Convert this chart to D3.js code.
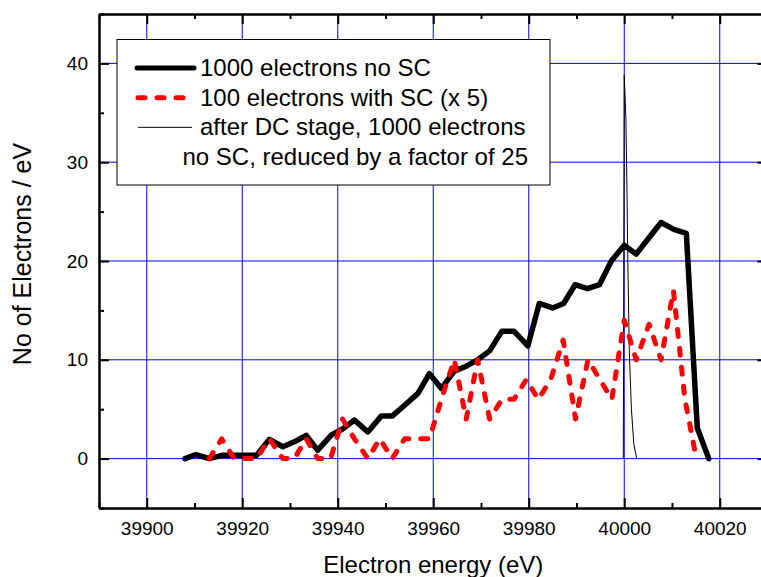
<!DOCTYPE html>
<html>
<head>
<meta charset="utf-8">
<script src="https://cdn.jsdelivr.net/npm/d3@7"></script>
<style>
  html, body { margin: 0; padding: 0; background: #fff; }
  svg { display: block; font-family: "Liberation Sans", Arial, sans-serif; }
</style>
</head>
<body>
<svg id="chart" width="761" height="577"></svg>
<script>
// ---- data ----
const seriesNames = [
  "1000 electrons no SC",
  "100 electrons with SC (x 5)",
  "after DC stage, 1000 electrons",
  "no SC, reduced by a factor of 25"
];

const energyNoSC = [39908, 39910.3, 39913.1, 39915.9, 39918.3, 39920.6, 39923, 39925.7, 39928.5, 39930.9,
  39933.4, 39935.8, 39938.7, 39941, 39943.5, 39946.3, 39949.1, 39951.4, 39954, 39956.8,
  39959.2, 39961.7, 39964.4, 39966.9, 39969.3, 39971.8, 39974.4, 39976.9, 39979.8, 39982.2,
  39985, 39987.3, 39989.7, 39992.3, 39994.8, 39997.3, 40000, 40002.5, 40005.1, 40007.7,
  40010.4, 40013, 40015.3, 40017.7];
const countsNoSC = [0, 0.4, 0, 0.35, 0.35, 0.35, 0.35, 1.95, 1.2, 1.7,
  2.35, 0.85, 2.4, 3.0, 3.9, 2.7, 4.3, 4.3, 5.4, 6.6,
  8.6, 7.1, 8.85, 9.35, 10.0, 10.9, 12.9, 12.9, 11.4, 15.7,
  15.25, 15.7, 17.6, 17.2, 17.6, 20.0, 21.6, 20.7, 22.3, 23.9,
  23.2, 22.8, 3.1, 0];

const energySC = [39913.1, 39915.7, 39918.3, 39920.6, 39923, 39925.7, 39928.5, 39930.9, 39933.4, 39935.8,
  39938.5, 39941, 39943.5, 39946.3, 39948.8, 39951.4, 39954, 39956.8, 39959.2, 39961.7,
  39964.4, 39966.9, 39969.3, 39971.8, 39974.4, 39976.9, 39979.5, 39982, 39984.6, 39987.2,
  39989.8, 39992.4, 39994.9, 39997.4, 40000, 40002.5, 40005.2, 40007.7, 40010.3, 40012.7,
  40015.1];
const countsSC = [0, 2, 0, 0, 0, 2, 0, 0, 2, 0,
  0, 4, 2, 0, 2, 0, 2, 2, 2, 6,
  10, 4, 10, 4, 6, 6, 8, 6, 8, 12,
  4, 10, 8, 6, 14, 10, 13.6, 10, 17, 6,
  0];

const energyDC = [39999.8, 40000, 40000.35, 40000.6, 40000.75, 40001.05, 40001.5, 40002, 40002.6];
const countsDC = [0, 38.8, 34.4, 26, 20, 11, 5, 1.5, 0];

const xMajorTicks = [39900, 39920, 39940, 39960, 39980, 40000, 40020];
const xMinorTicks = [39890, 39910, 39930, 39950, 39970, 39990, 40010, 40030];
const yMajorTicks = [0, 10, 20, 30, 40];
const yMinorTicks = [-5, 5, 15, 25, 35, 45];

const xTitle = "Electron energy (eV)";
const yTitle = "No of Electrons / eV";

// ---- layout ----
const L = 99, T = 14, R = 767.5, B = 508;
const svg = d3.select("#chart");

const x = d3.scaleLinear().domain([39890, 40030]).range([L, R]);
const y = d3.scaleLinear().domain([-5, 45]).range([B, T]);

// grid
const grid = svg.append("g");
grid.selectAll("line.gx").data(xMajorTicks).join("line")
  .attr("x1", d => x(d)).attr("x2", d => x(d))
  .attr("y1", T).attr("y2", B)
  .attr("stroke", "#0000ff").attr("stroke-width", 1);
grid.selectAll("line.gy").data(yMajorTicks).join("line")
  .attr("x1", L).attr("x2", R)
  .attr("y1", d => y(d)).attr("y2", d => y(d))
  .attr("stroke", "#0000ff").attr("stroke-width", 1);

// axes helper
function styleAxis(g) {
  g.selectAll(".domain").attr("stroke", "#000").attr("stroke-width", 2);
  g.selectAll(".tick line").attr("stroke", "#000").attr("stroke-width", 2);
  g.selectAll("text").attr("fill", "#000").attr("font-size", "19px")
    .attr("font-family", '"Liberation Sans", Arial, sans-serif');
}

// bottom
const gb = svg.append("g").attr("transform", `translate(0,${B})`)
  .call(d3.axisBottom(x).tickValues(xMajorTicks).tickSize(-10).tickPadding(13.5).tickFormat(d3.format("d")).tickSizeOuter(0));
styleAxis(gb);
const gbm = svg.append("g").attr("transform", `translate(0,${B})`)
  .call(d3.axisBottom(x).tickValues(xMinorTicks).tickSize(-5).tickFormat("").tickSizeOuter(0));
styleAxis(gbm);
// top
const gt = svg.append("g").attr("transform", `translate(0,${T})`)
  .call(d3.axisTop(x).tickValues(xMajorTicks).tickSize(-10).tickFormat("").tickSizeOuter(0));
styleAxis(gt);
const gtm = svg.append("g").attr("transform", `translate(0,${T})`)
  .call(d3.axisTop(x).tickValues(xMinorTicks).tickSize(-5).tickFormat("").tickSizeOuter(0));
styleAxis(gtm);
// left
const gl = svg.append("g").attr("transform", `translate(${L},0)`)
  .call(d3.axisLeft(y).tickValues(yMajorTicks).tickSize(-10).tickPadding(11).tickFormat(d3.format("d")).tickSizeOuter(0));
styleAxis(gl);
const glm = svg.append("g").attr("transform", `translate(${L},0)`)
  .call(d3.axisLeft(y).tickValues(yMinorTicks).tickSize(-5).tickFormat("").tickSizeOuter(0));
styleAxis(glm);
// right
const gr = svg.append("g").attr("transform", `translate(${R},0)`)
  .call(d3.axisRight(y).tickValues(yMajorTicks).tickSize(-10).tickFormat("").tickSizeOuter(0));
styleAxis(gr);
const grm = svg.append("g").attr("transform", `translate(${R},0)`)
  .call(d3.axisRight(y).tickValues(yMinorTicks).tickSize(-5).tickFormat("").tickSizeOuter(0));
styleAxis(grm);

// lines
const line = d3.line().x(d => x(d[0])).y(d => y(d[1]));
const blackData = d3.zip(energyNoSC, countsNoSC);
const redData = d3.zip(energySC, countsSC);
const dcData = d3.zip(energyDC, countsDC);

svg.append("path").datum(blackData).attr("d", line)
  .attr("fill", "none").attr("stroke", "#000").attr("stroke-width", 5.5)
  .attr("stroke-linejoin", "round").attr("stroke-linecap", "round");
svg.append("path").datum(dcData).attr("d", line)
  .attr("fill", "none").attr("stroke", "#000").attr("stroke-width", 1);
svg.append("path").datum(redData).attr("d", line)
  .attr("fill", "none").attr("stroke", "#ff0000").attr("stroke-width", 5)
  .attr("stroke-dasharray", "7,12").attr("stroke-linejoin", "round").attr("stroke-linecap", "round");

// legend
const lg = svg.append("g");
lg.append("rect").attr("x", 117).attr("y", 39.5).attr("width", 433).attr("height", 145.5)
  .attr("fill", "#fff").attr("stroke", "#000").attr("stroke-width", 1);
lg.append("line").attr("x1", 137).attr("x2", 194).attr("y1", 68).attr("y2", 68)
  .attr("stroke", "#000").attr("stroke-width", 5).attr("stroke-linecap", "round");
lg.append("line").attr("x1", 138).attr("x2", 184).attr("y1", 97.7).attr("y2", 97.7)
  .attr("stroke", "#ff0000").attr("stroke-width", 5).attr("stroke-dasharray", "7,12")
  .attr("stroke-linecap", "round");
lg.append("line").attr("x1", 138).attr("x2", 192).attr("y1", 127.3).attr("y2", 127.3)
  .attr("stroke", "#000").attr("stroke-width", 1);
const lt = [
  {t: seriesNames[0], x: 200, y: 76, a: "start"},
  {t: seriesNames[1], x: 200, y: 106, a: "start"},
  {t: seriesNames[2], x: 200, y: 135, a: "start"},
  {t: seriesNames[3], x: 528, y: 165, a: "end"}
];
lg.selectAll("text").data(lt).join("text")
  .attr("x", d => d.x).attr("y", d => d.y).attr("text-anchor", d => d.a)
  .attr("font-size", "24px").attr("fill", "#000").text(d => d.t);

// titles
svg.append("text").attr("x", (L + R) / 2).attr("y", 573).attr("text-anchor", "middle")
  .attr("font-size", "24px").attr("fill", "#000").text(xTitle);
svg.append("text").attr("transform", `translate(30.5,254) rotate(-90)`).attr("text-anchor", "middle")
  .attr("font-size", "25px").attr("fill", "#000").text(yTitle);
</script>
</body>
</html>
